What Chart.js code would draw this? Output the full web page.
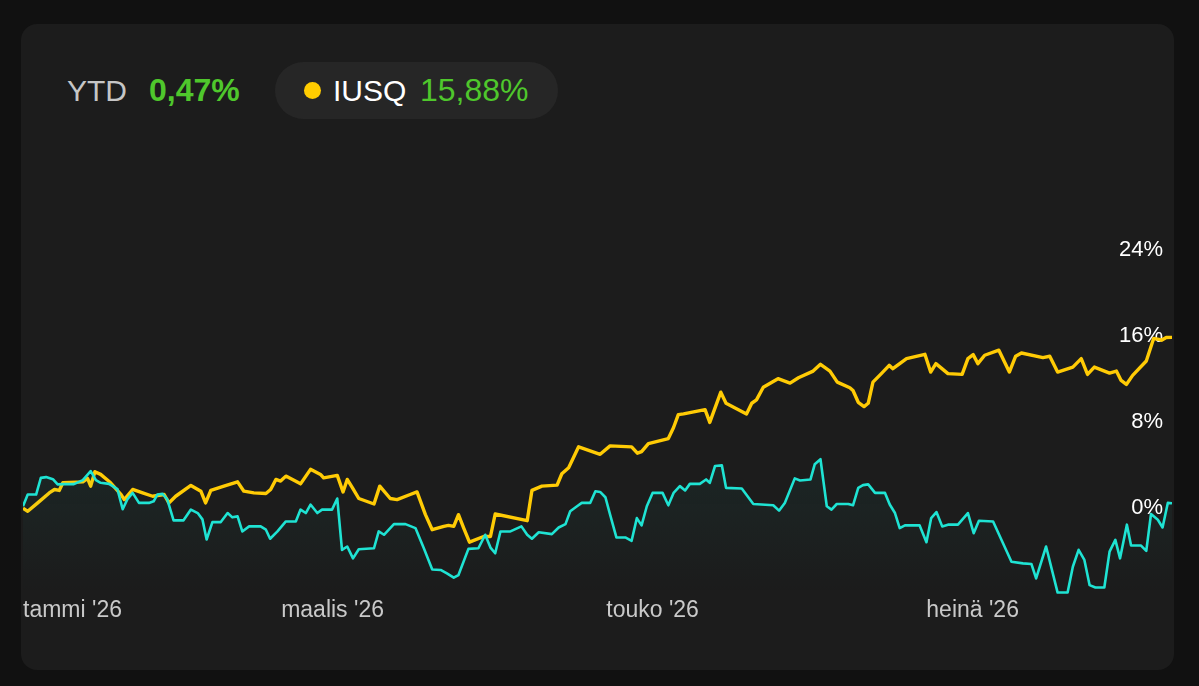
<!DOCTYPE html>
<html><head><meta charset="utf-8">
<script src="https://cdn.jsdelivr.net/npm/chart.js@4.4.1/dist/chart.umd.min.js"></script>
<style>
html,body{margin:0;padding:0;background:#111111;width:1199px;height:686px;overflow:hidden;font-family:"Liberation Sans",Arial,sans-serif;}
#card{position:absolute;left:21px;top:24px;width:1153px;height:646px;background:#1c1c1c;border-radius:16px;overflow:hidden;}
.t{position:absolute;top:38px;height:57px;line-height:57px;font-size:30px;white-space:nowrap;}
.v{font-size:32px;}
#ytd{left:46px;color:#c6c6c6;}
#ytdv{left:128px;color:#4fc72c;font-weight:bold;}
#pill{position:absolute;left:254px;top:38px;width:283px;height:57px;border-radius:28.5px;background:#262626;}
#dot{position:absolute;left:29px;top:20px;width:17px;height:17px;border-radius:50%;background:#ffcc00;}
#pill .t{top:0;}
#iusq{left:58px;color:#ffffff;}
#iusqv{left:145px;color:#4fc72c;}
#c{position:absolute;left:0;top:106px;}
</style></head>
<body>
<div id="card">
  <div class="t" id="ytd">YTD</div>
  <div class="t v" id="ytdv">0,47%</div>
  <div id="pill">
    <div id="dot"></div>
    <div class="t" id="iusq">IUSQ</div>
    <div class="t v" id="iusqv">15,88%</div>
  </div>
  <canvas id="c" width="1153" height="496" style="width:1153px;height:496px;"></canvas>
</div>
<script>
// x positions are calendar days since 1 Jan 2026
const monthTickDays = [0, 59, 120, 181];
const monthLabels = ["tammi '26", "maalis '26", "touko '26", "heinä '26"];
const lastDay = 219;
const yTicks = [0, 8, 16, 24];

// Portfolio YTD (teal)
const ytdDays = [
  0, 0.9, 2.5, 3.4, 4.4, 5.7, 6.6, 7.6, 9.7, 11.4,
  12.9, 13.9, 14.8, 16.4, 18.0, 19.0, 19.9, 20.9, 22.1, 24.0,
  24.9, 25.6, 26.6, 27.5, 28.7, 30.6, 32.0, 33.3, 34.2, 35.0,
  36.1, 37.7, 39.0, 39.9, 40.9, 41.8, 43.1, 45.3, 46.3, 47.1,
  48.5, 50.1, 52.0, 52.9, 53.9, 54.8, 56.1, 57.0, 58.9, 59.9,
  60.8, 61.8, 62.9, 64.0, 66.9, 67.8, 68.8, 70.7, 72.9, 74.8,
  76.4, 78.0, 79.6, 80.8, 82.1, 83.0, 84.9, 86.8, 88.1, 89.1,
  90.0, 91.0, 92.9, 95.0, 96.1, 97.0, 98.3, 100.8, 102.1, 103.4,
  104.3, 105.6, 106.5, 108.1, 109.1, 110.0, 111.0, 111.9, 113.1, 114.8,
  116.0, 117.0, 117.9, 118.9, 120.0, 121.9, 123.0, 124.0, 125.2, 126.2,
  127.1, 129.0, 130.2, 130.9, 131.9, 133.2, 134.0, 137.0, 139.2, 143.0,
  144.1, 145.2, 147.1, 148.1, 150.1, 150.9, 152.0, 153.2, 154.1, 155.1,
  157.3, 158.2, 159.2, 160.1, 161.1, 162.4, 164.3, 165.2, 166.2, 167.1,
  168.1, 170.9, 172.2, 173.1, 174.1, 175.2, 176.3, 178.2, 180.1, 181.2,
  182.2, 184.9, 188.4, 190.6, 192.2, 193.1, 195.0, 197.2, 199.1, 200.1,
  201.2, 202.3, 203.3, 204.4, 206.1, 207.1, 208.2, 209.1, 210.4, 211.2,
  213.1, 214.1, 215.0, 216.3, 217.2, 218.2, 219.0
];
const ytdValues = [
  0.19, 1.28, 1.28, 2.83, 2.90, 2.71, 2.22, 2.25, 2.25, 2.62,
  3.46, 2.62, 2.37, 2.27, 1.78, -0.09, 0.84, 1.43, 0.50, 0.50,
  0.65, 1.28, 1.34, 0.84, -1.12, -1.12, -0.12, -0.44, -1.03, -2.90,
  -1.28, -1.28, -0.44, -0.84, -0.75, -2.15, -1.68, -1.68, -1.99, -2.83,
  -2.15, -1.22, -1.22, -0.12, -0.44, 0.35, -0.44, -0.12, -0.12, 0.91,
  -3.86, -3.55, -4.65, -3.81, -3.71, -2.15, -2.46, -1.47, -1.47, -1.84,
  -3.71, -5.68, -5.73, -6.05, -6.45, -6.20, -3.77, -3.71, -2.46, -3.65,
  -4.18, -2.15, -2.15, -1.68, -2.46, -2.83, -2.22, -2.40, -1.78, -1.47,
  -0.28, 0.19, 0.50, 0.50, 1.59, 1.52, 1.03, -0.59, -2.71, -2.71,
  -3.02, -0.91, -1.59, 0.19, 1.43, 1.43, 0.28, 1.43, 2.06, 1.66,
  2.27, 2.27, 2.68, 2.37, 3.93, 3.99, 1.90, 1.84, 0.40, 0.28,
  -0.22, 0.50, 2.78, 2.59, 2.68, 4.09, 4.56, 0.19, -0.12, 0.40,
  0.40, 0.28, 1.90, 2.15, 2.22, 1.43, 1.43, 0.35, -0.44, -1.84,
  -1.59, -1.59, -3.15, -0.91, -0.35, -1.68, -1.52, -1.52, -0.44, -2.31,
  -1.15, -1.22, -4.96, -5.12, -5.17, -6.52, -3.55, -7.83, -7.83, -5.43,
  -3.86, -4.80, -7.14, -7.36, -7.36, -4.02, -2.93, -4.65, -1.52, -3.46,
  -3.46, -3.96, -0.53, -1.06, -1.78, 0.50, 0.47
];

// IUSQ (yellow)
const iusqDays = [
  0, 0.9, 2.8, 5.0, 6.0, 6.9, 7.6, 11.4, 12.3, 12.9,
  13.7, 14.8, 16.7, 18.7, 19.3, 20.9, 22.8, 24.7, 26.9, 27.8,
  29.1, 32.0, 33.9, 34.8, 35.8, 38.3, 40.9, 42.1, 44.0, 46.3,
  47.2, 48.2, 49.1, 50.1, 52.9, 54.8, 56.7, 57.3, 59.9, 61.0,
  61.8, 62.8, 64.0, 66.9, 68.0, 70.0, 71.3, 73.8, 75.1, 76.7,
  78.0, 80.2, 81.1, 82.1, 83.0, 84.0, 85.1, 87.8, 89.1, 90.0,
  96.1, 97.0, 98.9, 101.8, 102.7, 104.0, 105.9, 110.0, 111.9, 116.0,
  117.1, 117.9, 119.2, 123.0, 124.0, 124.9, 125.9, 130.0, 130.9, 133.0,
  134.0, 137.9, 138.9, 139.8, 141.1, 143.9, 146.2, 147.8, 150.6, 152.0,
  153.8, 155.2, 157.6, 158.2, 159.2, 160.3, 161.1, 162.0, 163.6, 165.1,
  165.8, 168.4, 171.9, 173.0, 174.0, 176.3, 179.0, 180.1, 181.1, 182.0,
  183.3, 186.0, 188.0, 189.2, 190.3, 194.4, 195.7, 197.2, 200.1, 201.7,
  202.9, 204.2, 207.1, 208.4, 209.3, 210.3, 211.5, 214.1, 215.5, 216.5,
  217.0, 217.9, 219.0
];
const iusqValues = [
  0, -0.28, 0.50, 1.43, 1.75, 1.66, 2.37, 2.46, 2.78, 2.06,
  3.40, 3.15, 2.37, 1.28, 0.81, 1.75, 1.43, 1.12, 1.28, 0.50,
  1.12, 2.12, 1.59, 0.50, 1.66, 2.06, 2.46, 1.59, 1.43, 1.38,
  1.75, 2.68, 2.53, 2.99, 2.27, 3.62, 3.15, 2.83, 3.06, 1.52,
  2.68, 1.90, 0.91, 0.40, 2.06, 0.91, 0.81, 1.28, 1.52, -0.59,
  -1.99, -1.68, -1.59, -1.68, -0.59, -1.84, -3.15, -2.62, -2.62, -0.53,
  -1.15, 1.66, 2.06, 2.15, 3.21, 3.77, 5.71, 5.02, 5.80, 5.71,
  5.12, 5.27, 6.01, 6.48, 7.51, 8.70, 8.77, 9.17, 7.98, 10.79,
  9.76, 8.77, 9.76, 10.07, 11.25, 12.04, 11.63, 12.13, 12.75, 13.38,
  12.75, 11.72, 11.20, 10.94, 9.85, 9.45, 9.76, 11.72, 12.51, 13.28,
  12.97, 13.91, 14.31, 12.66, 13.44, 12.51, 12.44, 13.91, 14.28, 13.44,
  14.22, 14.69, 12.66, 14.13, 14.43, 14.00, 14.13, 12.66, 13.12, 13.91,
  12.44, 13.12, 12.56, 12.75, 11.88, 11.51, 12.35, 13.69, 15.78, 15.69,
  15.62, 15.87, 15.88
];

const toPoints = (xs, ys) => xs.map((x, i) => ({x: x, y: ys[i]}));

const FONT = '"Liberation Sans", Arial, sans-serif';

new Chart(document.getElementById('c'), {
  type: 'line',
  data: {
    datasets: [
      {
        label: 'YTD',
        data: toPoints(ytdDays, ytdValues),
        borderColor: '#1fe3d3',
        borderWidth: 2.6,
        pointRadius: 0,
        tension: 0,
        borderJoinStyle: 'round',
        fill: 'start',
        backgroundColor: (c) => {
          const a = c.chart.chartArea;
          if (!a) return 'rgba(31,227,211,0.05)';
          const g = c.chart.ctx.createLinearGradient(0, a.top, 0, a.bottom);
          g.addColorStop(0, 'rgba(31,227,211,0.14)');
          g.addColorStop(1, 'rgba(31,227,211,0.0)');
          return g;
        }
      },
      {
        label: 'IUSQ',
        data: toPoints(iusqDays, iusqValues),
        borderColor: '#ffcb05',
        borderWidth: 3.4,
        pointRadius: 0,
        tension: 0,
        borderJoinStyle: 'round',
        fill: false
      }
    ]
  },
  options: {
    responsive: false,
    animation: false,
    devicePixelRatio: 1,
    layout: {padding: {top: 120, left: 0, right: 0, bottom: 0}},
    plugins: {legend: {display: false}, tooltip: {enabled: false}},
    scales: {
      x: {
        type: 'linear', min: 0, max: lastDay,
        grid: {display: false, drawTicks: false},
        border: {display: false},
        afterBuildTicks: (s) => { s.ticks = monthTickDays.concat([lastDay]).map(v => ({value: v})); },
        ticks: {
          align: 'inner', autoSkip: false, maxRotation: 0, padding: 2,
          color: '#c9c9c9', font: {family: FONT, size: 23},
          callback: (v, i) => (monthLabels[i] !== undefined ? monthLabels[i] : '')
        }
      },
      y: {
        position: 'right', min: -8, max: 24,
        grid: {display: false, drawTicks: false},
        border: {display: false},
        afterFit: (s) => { s.width = 0; },
        afterBuildTicks: (s) => { s.ticks = yTicks.map(v => ({value: v})); },
        ticks: {
          mirror: true, padding: -9, color: '#ffffff',
          font: {family: FONT, size: 22},
          callback: (v) => v + '%'
        }
      }
    }
  }
});
</script>
</body></html>
